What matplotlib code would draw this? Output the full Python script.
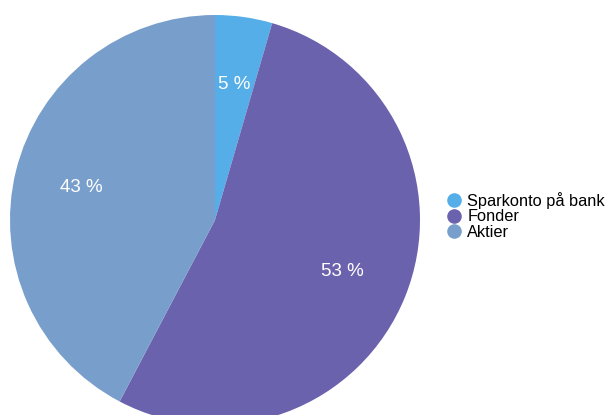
import matplotlib.pyplot as plt
from matplotlib.lines import Line2D

plt.rcParams['font.family'] = ['Liberation Sans', 'DejaVu Sans']

# data
labels = ['Sparkonto på bank', 'Fonder', 'Aktier']
values = [4.5, 53.2, 42.3]
shown = ['5 %', '53 %', '43 %']
colors = ['#55aee8', '#6b62ae', '#789fcc']

fig = plt.figure(figsize=(6.07, 4.15), dpi=100)
ax = fig.add_axes([10 / 607, -10 / 415, 410 / 607, 410 / 415])

wedges, texts = ax.pie(values, colors=colors, startangle=90, counterclock=False,
                       labels=shown, labeldistance=0.67,
                       wedgeprops=dict(linewidth=0),
                       textprops=dict(color='white', fontsize=13.5, ha='center', va='center'))
ax.set_xlim(-1, 1)
ax.set_ylim(-1, 1)
ax.set_aspect('equal')

handles = [Line2D([], [], marker='o', linestyle='', markersize=10.5,
                  markerfacecolor=c, markeredgewidth=0) for c in colors]
fig.legend(handles, labels, loc='center left', bbox_to_anchor=(437 / 607, 1 - 216 / 415),
           frameon=False, fontsize=11.8, handletextpad=0.25, labelspacing=0.02,
           handlelength=1.1, borderpad=0)

plt.savefig('out.png', dpi=100)
